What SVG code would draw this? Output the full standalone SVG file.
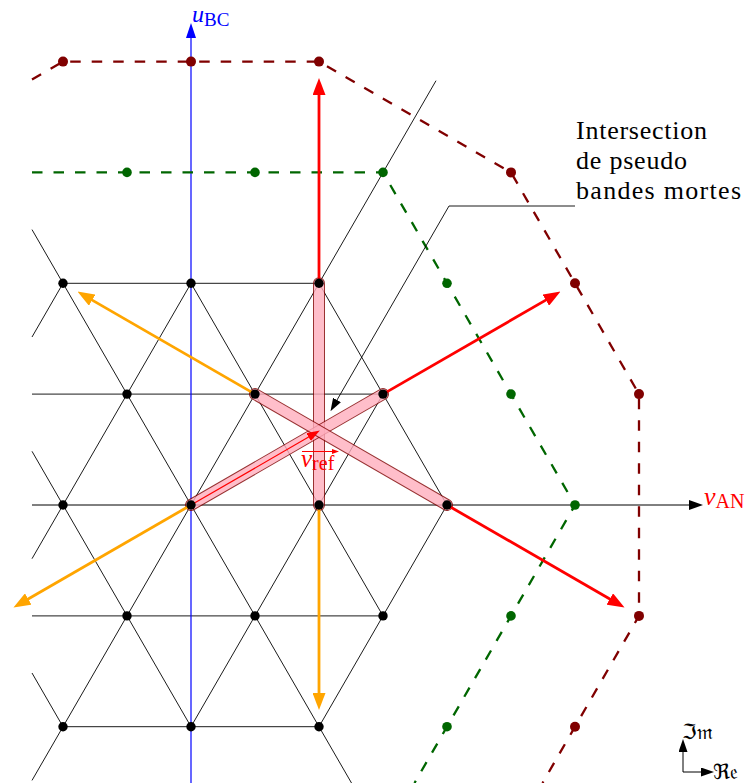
<svg xmlns="http://www.w3.org/2000/svg" width="746" height="783" viewBox="0 0 746 783">
<style>
.lat{stroke:#000;stroke-width:0.9;fill:none}
.dash{fill:none;stroke-width:2.3;stroke-dasharray:10.5 11}
.dr{stroke:#800000}
.dg{stroke:#006600}
.vr{stroke:#ff0000;stroke-width:2.8;fill:none}
.vo{stroke:#ffa500;stroke-width:2.8;fill:none}
.band{opacity:0.8}
.bo{stroke:#800000;stroke-width:12;stroke-linecap:round}
.bi{stroke:#ffaebe;stroke-width:10;stroke-linecap:round}
.t{font-family:"Liberation Serif","Times New Roman",serif}
.dk{fill:#000}
.dgr{fill:#006600}
.ddr{fill:#800000}
</style>
<defs>
<marker id="hR" markerUnits="userSpaceOnUse" markerWidth="17" markerHeight="13" viewBox="0 0 17 13" refX="9" refY="6.5" orient="auto"><path d="M0,0 L17,6.5 L0,13 Z" fill="#ff0000"/></marker>
<marker id="hO" markerUnits="userSpaceOnUse" markerWidth="17" markerHeight="13" viewBox="0 0 17 13" refX="9" refY="6.5" orient="auto"><path d="M0,0 L17,6.5 L0,13 Z" fill="#ffa500"/></marker>
<marker id="hK" markerUnits="userSpaceOnUse" markerWidth="14" markerHeight="10" viewBox="0 0 14 10" refX="7" refY="5" orient="auto"><path d="M0,0 L14,5 L0,10 Z" fill="#000"/></marker>
<marker id="hB" markerUnits="userSpaceOnUse" markerWidth="15" markerHeight="10" viewBox="0 0 15 10" refX="7" refY="5" orient="auto"><path d="M0,0 L15,5 L0,10 Z" fill="#0000ff"/></marker>
<marker id="hKs" markerUnits="userSpaceOnUse" markerWidth="13" markerHeight="9" viewBox="0 0 13 9" refX="6" refY="4.5" orient="auto"><path d="M0,0 L13,4.5 L0,9 Z" fill="#000"/></marker>
<marker id="hRs" markerUnits="userSpaceOnUse" markerWidth="13" markerHeight="9" viewBox="0 0 13 9" refX="6" refY="4.5" orient="auto"><path d="M0,0 L13,4.5 L0,9 Z" fill="#ff0000"/></marker>
<marker id="hRt" markerUnits="userSpaceOnUse" markerWidth="7" markerHeight="5" viewBox="0 0 7 5" refX="3" refY="2.5" orient="auto"><path d="M0,0 L7,2.5 L0,5 Z" fill="#ff0000"/></marker>
</defs>
<rect width="746" height="783" fill="#fff"/>

<g id="lattice">
<path class="lat" d="M63,283.3 H319 M32,394.1 H383 M32,615.9 H383 M63,726.7 H319"/>
<path class="lat" d="M32,337 L63,283.3 M32,558.7 L191,283.3 M191,726.7 L383,394.1 M319,726.7 L447,505"/>
<path class="lat" d="M447,505 L319,283.3 M383,615.9 L191,283.3 M191,726.7 L32,451.3 M63,726.7 L32,673"/>
</g>

<g id="axes">
<path class="lat" d="M32,780.4 L436,80.7"/>
<path class="lat" d="M32,229.6 L351.5,783"/>
<path d="M32,505 H696" stroke="#000" stroke-width="1" fill="none" marker-end="url(#hK)"/>
<path d="M191,783 V31" stroke="#0000ff" stroke-width="1.2" fill="none" marker-end="url(#hB)"/>
</g>

<g id="dashed-paths">
<path class="dash dg" d="M32,172.4 H383 L575,505 L414.5,783"/>
<path class="dash dr" d="M32,79.5 L63,61.6 H319 L511,172.4 L639,394.1 V615.9 L542.5,783"/>
</g>

<g id="bands">
<g class="band"><path class="bo" d="M319,283.3 V505"/><path class="bi" d="M319,283.3 V505"/></g>
<g class="band"><path class="bo" d="M191,505 L383,394.1"/><path class="bi" d="M191,505 L383,394.1"/></g>
<g class="band"><path class="bo" d="M255,394.1 L447,505"/><path class="bi" d="M255,394.1 L447,505"/></g>
</g>

<g id="vectors">
<path d="M191,505 L313.8,434.1" stroke="#ff0000" stroke-width="1.2" fill="none" marker-end="url(#hRs)"/>
<path class="vr" d="M319,283.3 V86" marker-end="url(#hR)"/>
<path class="vr" d="M383,394.1 L553.6,295.6" marker-end="url(#hR)"/>
<path class="vr" d="M447,505 L617.6,603.5" marker-end="url(#hR)"/>
<path class="vo" d="M255,394.1 L84.4,295.6" marker-end="url(#hO)"/>
<path class="vo" d="M191,505 L20.4,603.5" marker-end="url(#hO)"/>
<path class="vo" d="M319,505 V702" marker-end="url(#hO)"/>
</g>

<g id="dots">
<g id="lattice-dots" class="dk">
<circle cx="63" cy="283.3" r="4.7"/><circle cx="191" cy="283.3" r="4.7"/><circle cx="319" cy="283.3" r="4.7"/>
<circle cx="127" cy="394.1" r="4.7"/><circle cx="255" cy="394.1" r="4.7"/><circle cx="383" cy="394.1" r="4.7"/>
<circle cx="63" cy="505" r="4.7"/><circle cx="191" cy="505" r="4.7"/><circle cx="319" cy="505" r="4.7"/><circle cx="447" cy="505" r="4.7"/>
<circle cx="127" cy="615.9" r="4.7"/><circle cx="255" cy="615.9" r="4.7"/><circle cx="383" cy="615.9" r="4.7"/>
<circle cx="63" cy="726.7" r="4.7"/><circle cx="191" cy="726.7" r="4.7"/><circle cx="319" cy="726.7" r="4.7"/>
</g>
<g id="green-dots" class="dgr">
<circle cx="127" cy="172.4" r="4.8"/><circle cx="255" cy="172.4" r="4.8"/><circle cx="383" cy="172.4" r="4.8"/>
<circle cx="447" cy="283.3" r="4.8"/><circle cx="511" cy="394.1" r="4.8"/><circle cx="575" cy="505" r="4.8"/>
<circle cx="511" cy="615.9" r="4.8"/><circle cx="447" cy="726.7" r="4.8"/>
</g>
<g id="darkred-dots" class="ddr">
<circle cx="63" cy="61.6" r="5"/><circle cx="191" cy="61.6" r="5"/><circle cx="319" cy="61.6" r="5"/>
<circle cx="511" cy="172.4" r="5"/><circle cx="575" cy="283.3" r="5"/><circle cx="639" cy="394.1" r="5"/>
<circle cx="639" cy="615.9" r="5"/><circle cx="575" cy="726.7" r="5"/>
</g>
</g>

<g id="labels">
<text class="t" x="192" y="22" fill="#0000ff"><tspan font-style="italic" font-size="24">u</tspan><tspan font-size="19" dy="4">BC</tspan></text>
<text class="t" x="704" y="505" fill="#ff0000"><tspan font-style="italic" font-size="26">v</tspan><tspan font-size="20" dy="3">AN</tspan></text>
<g id="vref-label">
<text class="t" x="301" y="467" fill="#ff0000"><tspan font-style="italic" font-size="25">v</tspan><tspan font-size="20" dy="3">ref</tspan></text>
<path d="M302,451.5 H335" stroke="#ff0000" stroke-width="1" fill="none" marker-end="url(#hRt)"/>
</g>
</g>

<g id="annotation">
<path d="M575,206 H449 L334,405.2" stroke="#000" stroke-width="0.9" fill="none" marker-end="url(#hKs)"/>
<text class="t" font-size="26" fill="#000"><tspan x="576" y="139" textLength="131">Intersection</tspan><tspan x="576" y="169" textLength="111">de pseudo</tspan><tspan x="576" y="199" textLength="165">bandes mortes</tspan></text>
</g>

<g id="frame-axes">
<path d="M683,772 V746" stroke="#000" stroke-width="1" fill="none" marker-end="url(#hKs)"/>
<path d="M683,772 H707" stroke="#000" stroke-width="1" fill="none" marker-end="url(#hKs)"/>
<text x="682" y="739" font-family="DejaVu Serif, DejaVu Sans, serif" font-size="21" fill="#000">ℑ𝔪</text>
<text x="713" y="779" font-family="DejaVu Serif, DejaVu Sans, serif" font-size="21" fill="#000">ℜ𝔢</text>
</g>
</svg>
